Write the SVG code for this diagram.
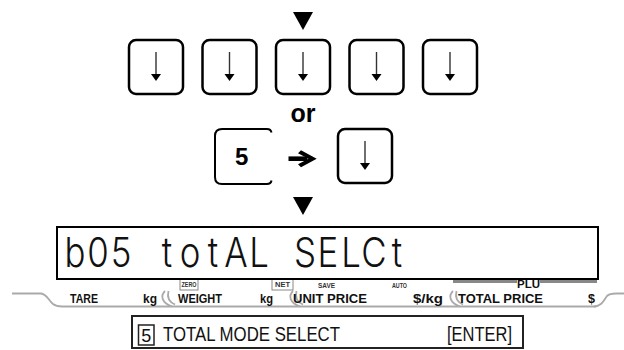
<svg xmlns="http://www.w3.org/2000/svg" width="624" height="350" viewBox="0 0 624 350">
<style>
.key{fill:#fff;stroke:#000;stroke-width:2.5}
.karr{stroke:#333;stroke-width:1.4;fill:none}
.khead{fill:#000}
.tri{fill:#000}
.tab{fill:none;stroke:#aaa;stroke-width:1.8}
.lbl{font-family:"Liberation Sans",Arial,sans-serif;font-weight:bold;font-size:12px;fill:#111}
.sm{font-family:"Liberation Sans",Arial,sans-serif;font-weight:bold;font-size:6.5px;fill:#333}
.seg{font-family:Inter,"Liberation Sans",sans-serif;font-weight:300;font-size:41px;fill:#111;text-anchor:middle}
.msg{font-family:"Liberation Sans",Arial,sans-serif;font-size:21px;fill:#111}
</style>
<defs>
<g id="downkey">
<rect class="key" x="-27" y="0" width="54" height="54" rx="7"/>
<line class="karr" x1="0" y1="12" x2="0" y2="35"/>
<polygon class="khead" points="-5,34 5,34 0,41"/>
</g>
</defs>
<polygon id="tri1" class="tri" points="293,12 313,12 303,30"/>
<g id="keyrow1">
<use href="#downkey" x="156" y="40"/>
<use href="#downkey" x="229.5" y="40"/>
<use href="#downkey" x="303" y="40"/>
<use href="#downkey" x="376.5" y="40"/>
<use href="#downkey" x="450" y="40"/>
</g>
<text id="or" x="303" y="122" text-anchor="middle" style="font-family:'Liberation Sans',Arial,sans-serif;font-weight:bold;font-size:25px;fill:#000">or</text>
<g id="key5">
<path d="M271.5,132.5 C271,130 270,129 267,129 H222 Q215,129 215,136 V177 Q215,184 222,184 H267 C270,184 271,183 271.5,180.5" fill="none" stroke="#000" stroke-width="2"/>
<text x="241.7" y="164.5" text-anchor="middle" style="font-family:'Liberation Sans',Arial,sans-serif;font-weight:bold;font-size:24px;fill:#000">5</text>
</g>
<g id="connectors">
<rect x="288.5" y="156.4" width="19" height="4.6" fill="#000"/>
<polygon points="301,150.2 316.7,158.7 301,167.2 298,164.2 308.5,158.7 298,153.2" fill="#000"/>
</g>
<use id="keydown2" href="#downkey" x="365" y="129"/>
<polygon id="tri2" class="tri" points="293,197 313,197 303,215"/>
<g id="labels">
<path class="tab" d="M12,293.5 H41 C47,294 48,300 53,304 C55,305.5 58,306.5 62,306.5 H596"/>
<path class="tab" d="M165,291 C160,296 162,303 172,306.5"/>
<path class="tab" d="M168.5,291 C167,297 169,302 175,304.5"/>
<path class="tab" d="M293,291 C288,296 290,303 300,306.5"/>
<path class="tab" d="M296.5,291 C295,297 297,302 303,304.5"/>
<path class="tab" d="M453,291 C448,296 450,303 460,306.5"/>
<path class="tab" d="M456.5,291 C455,297 457,302 463,304.5"/>
<path class="tab" d="M594,306.5 C602,306 604,300 607,296 C609,294 611,293.5 616,293.5 H624"/>
<text class="lbl" x="70" y="302.5" textLength="28" lengthAdjust="spacingAndGlyphs">TARE</text>
<text class="lbl" x="143" y="302.5" textLength="14" lengthAdjust="spacingAndGlyphs">kg</text>
<text class="lbl" x="178" y="302.5" textLength="44" lengthAdjust="spacingAndGlyphs">WEIGHT</text>
<text class="lbl" x="260" y="302.5" textLength="13" lengthAdjust="spacingAndGlyphs">kg</text>
<text class="lbl" x="293" y="302.5" textLength="74" lengthAdjust="spacingAndGlyphs">UNIT PRICE</text>
<text class="lbl" x="413" y="302.5" textLength="30" lengthAdjust="spacingAndGlyphs">$/kg</text>
<text class="lbl" x="458" y="302.5" textLength="85" lengthAdjust="spacingAndGlyphs">TOTAL PRICE</text>
<text class="lbl" x="588" y="302.5" textLength="7" lengthAdjust="spacingAndGlyphs">$</text>
<rect x="180" y="277" width="18" height="13" fill="none" stroke="#888" stroke-width="1"/>
<text class="sm" x="181.5" y="287" textLength="15" lengthAdjust="spacingAndGlyphs">ZERO</text>
<rect x="272" y="277" width="21" height="13" fill="none" stroke="#888" stroke-width="1"/>
<text class="sm" x="275" y="287" textLength="15" lengthAdjust="spacingAndGlyphs">NET</text>
<text class="sm" x="318" y="288" textLength="17" lengthAdjust="spacingAndGlyphs">SAVE</text>
<text class="sm" x="392" y="288" textLength="15" lengthAdjust="spacingAndGlyphs">AUTO</text>
<rect x="453" y="280" width="64" height="3" fill="#888"/>
<rect x="540" y="280" width="57" height="3" fill="#888"/>
<text class="lbl" x="517" y="287.5" textLength="23" lengthAdjust="spacingAndGlyphs" style="font-size:10px">PLU</text>
</g>
<g id="display">
<rect x="57" y="227" width="541" height="52" fill="#fff" stroke="#000" stroke-width="2"/>
<text class="seg" transform="translate(0,267) scale(0.85,1)" x="88.24 115.29 142.35 169.41 196.47 223.53 250.59 277.65 304.71 331.76 358.82 385.88 412.94 440 467.06" y="0">b05 totAL SELCt</text>
</g>
<g id="message">
<rect x="132" y="316" width="391" height="32" fill="#fff" stroke="#222" stroke-width="2"/>
<rect x="138.5" y="325" width="15.5" height="20" fill="none" stroke="#222" stroke-width="1.5"/>
<text class="msg" x="146.2" y="342" text-anchor="middle" style="font-size:18px">5</text>
<text class="msg" x="163" y="340.5" textLength="177" lengthAdjust="spacingAndGlyphs">TOTAL MODE SELECT</text>
<text class="msg" x="447" y="340.5" textLength="65" lengthAdjust="spacingAndGlyphs">[ENTER]</text>
</g>
</svg>
